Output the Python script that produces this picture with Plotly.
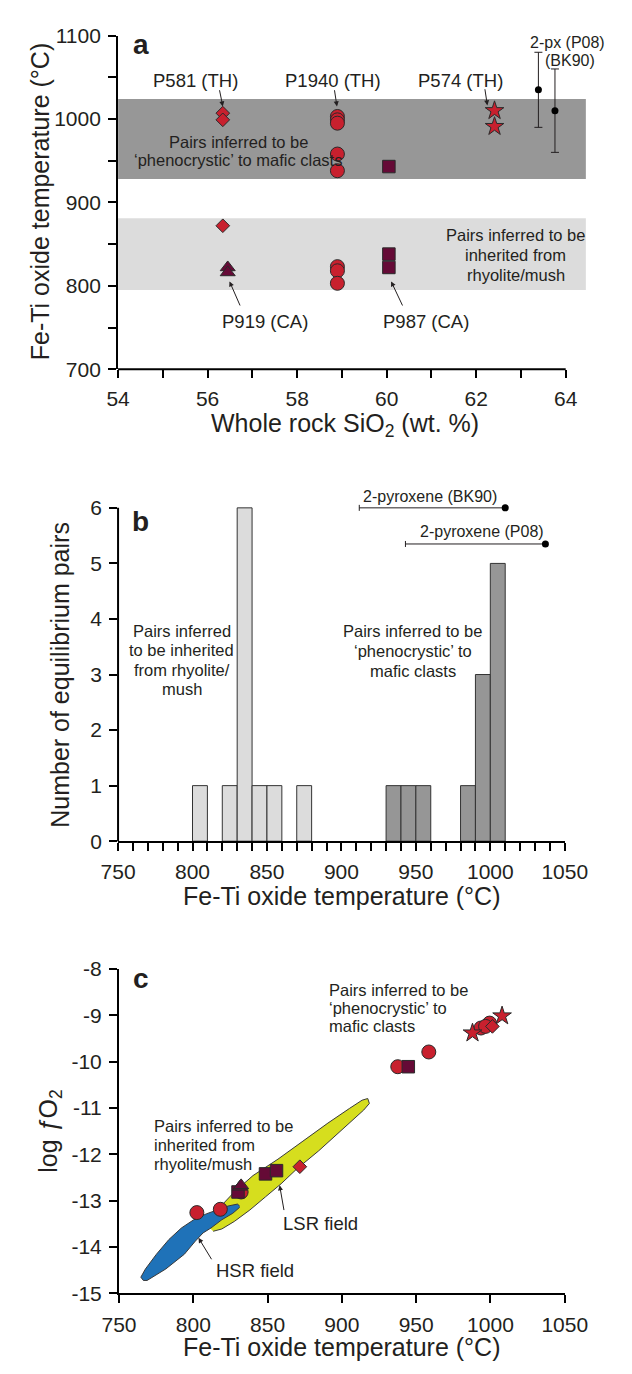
import plotly.graph_objects as go

W, H = 632, 1374
FONT = "Liberation Sans, Arial, sans-serif"
INK = "#231f20"
RED = "#c8202e"
MAROON = "#650a36"
EDGE = "#2a2a2a"

# ---------------- panel a: temperature vs whole-rock SiO2 ----------------
p581_sio2 = [56.34, 56.34, 56.34]
p581_temp = [1007, 999, 872]
p919_sio2 = [56.45, 56.45]
p919_temp = [822, 816]
p1940_sio2 = [58.9, 58.9, 58.9, 58.9, 58.9, 58.9, 58.9, 58.9]
p1940_temp = [1003, 999, 995, 958, 938, 823, 818, 803]
p987_sio2 = [60.05, 60.05, 60.05]
p987_temp = [943, 838, 822]
p574_sio2 = [62.41, 62.41]
p574_temp = [1010, 991]
twopx_sio2 = [63.39, 63.76]
twopx_temp = [1035, 1010]
twopx_err = [45, 50]
mafic_band = [928, 1024]
rhyolite_band = [795, 881]

# ---------------- panel b: histogram of equilibrium pairs ----------------
light_bin_start = [800, 820, 830, 840, 850, 870]
light_counts = [1, 1, 6, 1, 1, 1]
dark_bin_start = [930, 940, 950, 980, 990, 1000]
dark_counts = [1, 1, 1, 1, 3, 5]
bin_width = 10
bk90_temp, bk90_minus, bk90_level = 1010, 98, 6.0
p08_temp, p08_minus, p08_level = 1037, 94, 5.35

# ---------------- panel c: log fO2 vs temperature ----------------
c_circle_t = [802.4, 818.2, 832.2, 937.6, 958.5, 993.6, 999.4, 996.7]
c_circle_f = [-13.255, -13.184, -12.81, -10.108, -9.79, -9.273, -9.167, -9.238]
c_square_t = [830.1, 848.6, 856.0, 944.7]
c_square_f = [-12.81, -12.42, -12.35, -10.108]
c_triangle_t = [831.4, 832.2]
c_triangle_f = [-12.70, -12.668]
c_diamond_t = [871.7, 1001.3]
c_diamond_f = [-12.265, -9.238]
c_star_t = [987.9, 1007.8]
c_star_f = [-9.38, -9.012]

lsr_t = [811.3, 816.1, 820.3, 827.6, 840.2, 857.0, 873.8, 890.6, 905.2, 913.6, 917.4,
         918.5, 914.7, 901.1, 884.3, 869.6, 859.1, 848.6, 838.1, 827.6, 819.2, 813.4]
lsr_f = [-13.59, -13.375, -13.057, -12.81, -12.456, -12.102, -11.713, -11.324, -11.006,
         -10.83, -10.794, -10.90, -11.042, -11.43, -11.925, -12.314, -12.633, -12.915,
         -13.198, -13.446, -13.608, -13.658]
hsr_t = [831.2, 829.7, 823.4, 817.1, 808.7, 800.3, 792.0, 783.6, 775.2, 767.8, 764.7,
         766.4, 768.9, 781.5, 794.0, 801.4, 806.6, 811.9, 819.2, 826.6, 831.2]
hsr_f = [-13.113, -13.071, -13.113, -13.184, -13.283, -13.41, -13.587, -13.835, -14.153,
         -14.471, -14.648, -14.719, -14.719, -14.471, -14.153, -13.87, -13.693, -13.587,
         -13.41, -13.269, -13.142]


def px(x):
    return x / W


def py(y):
    return 1 - y / H


fig = go.Figure()


def marker(symbol, color, size):
    return dict(symbol=symbol, color=color, size=size, line=dict(color=EDGE, width=1))


# panel a traces
fig.add_trace(go.Scatter(x=p1940_sio2, y=p1940_temp, mode="markers",
                         marker=marker("circle", RED, 14), xaxis="x", yaxis="y"))
fig.add_trace(go.Scatter(x=p987_sio2, y=p987_temp, mode="markers",
                         marker=marker("square", MAROON, 12.5), xaxis="x", yaxis="y"))
fig.add_trace(go.Scatter(x=p581_sio2, y=p581_temp, mode="markers",
                         marker=marker("diamond", RED, 10.5), xaxis="x", yaxis="y"))
fig.add_trace(go.Scatter(x=p919_sio2, y=p919_temp, mode="markers",
                         marker=marker("triangle-up", MAROON, 13), xaxis="x", yaxis="y"))
fig.add_trace(go.Scatter(x=p574_sio2, y=p574_temp, mode="markers",
                         marker=marker("star", RED, 14), xaxis="x", yaxis="y"))
fig.add_trace(go.Scatter(x=twopx_sio2, y=twopx_temp, mode="markers",
                         marker=dict(color="black", size=7),
                         error_y=dict(type="data", array=twopx_err, color=INK,
                                      thickness=1, width=4),
                         xaxis="x", yaxis="y", cliponaxis=False))

# panel b traces
fig.add_trace(go.Bar(x=[b + bin_width / 2 for b in light_bin_start], y=light_counts,
                     width=bin_width, marker=dict(color="#dcdcdc", line=dict(color="#333333", width=1)),
                     xaxis="x2", yaxis="y2"))
fig.add_trace(go.Bar(x=[b + bin_width / 2 for b in dark_bin_start], y=dark_counts,
                     width=bin_width, marker=dict(color="#969696", line=dict(color="#333333", width=1)),
                     xaxis="x2", yaxis="y2"))
fig.add_trace(go.Scatter(x=[bk90_temp, p08_temp], y=[bk90_level, p08_level], mode="markers",
                         marker=dict(color="black", size=7),
                         error_x=dict(type="data", symmetric=False, array=[0, 0],
                                      arrayminus=[bk90_minus, p08_minus], color=INK,
                                      thickness=1, width=3),
                         xaxis="x2", yaxis="y2", cliponaxis=False))

# panel c traces
fig.add_trace(go.Scatter(x=lsr_t, y=lsr_f, mode="lines", fill="toself", fillcolor="#d6de1e",
                         line=dict(color="#3a3a3a", width=1), xaxis="x3", yaxis="y3"))
fig.add_trace(go.Scatter(x=hsr_t, y=hsr_f, mode="lines", fill="toself", fillcolor="#1f72b8",
                         line=dict(color="#3a3a3a", width=1), xaxis="x3", yaxis="y3"))
fig.add_trace(go.Scatter(x=c_circle_t, y=c_circle_f, mode="markers",
                         marker=marker("circle", RED, 14), xaxis="x3", yaxis="y3"))
fig.add_trace(go.Scatter(x=c_square_t, y=c_square_f, mode="markers",
                         marker=marker("square", MAROON, 12.5), xaxis="x3", yaxis="y3"))
fig.add_trace(go.Scatter(x=c_diamond_t, y=c_diamond_f, mode="markers",
                         marker=marker("diamond", RED, 10.5), xaxis="x3", yaxis="y3"))
fig.add_trace(go.Scatter(x=c_triangle_t, y=c_triangle_f, mode="markers",
                         marker=marker("triangle-up", MAROON, 13), xaxis="x3", yaxis="y3"))
fig.add_trace(go.Scatter(x=c_star_t, y=c_star_f, mode="markers",
                         marker=marker("star", RED, 14), xaxis="x3", yaxis="y3"))

# background bands in panel a
shapes = []
for band, col in [(mafic_band, "#979797"), (rhyolite_band, "#dcdcdc")]:
    shapes.append(dict(type="rect", xref="x", yref="y", x0=54, x1=64.45, y0=band[0], y1=band[1],
                       fillcolor=col, line=dict(width=0), layer="below"))

# axis lines drawn only over the labelled span
a_xrange = [54, 64.5]
b_yrange = [0, 6.45]
shapes.append(dict(type="line", xref="x domain", yref="y domain", x0=0,
                   x1=(64 - a_xrange[0]) / (a_xrange[1] - a_xrange[0]), y0=0, y1=0,
                   line=dict(color="black", width=2)))
shapes.append(dict(type="line", xref="x2 domain", yref="y2 domain", x0=0, x1=0, y0=0,
                   y1=(6 - b_yrange[0]) / (b_yrange[1] - b_yrange[0]),
                   line=dict(color="black", width=2)))

annotations = []


def text(x, y, s, size=16.5, xref="x", yref="y", xanchor="center", bold=False, **kw):
    if bold:
        s = "<b>" + s + "</b>"
    annotations.append(dict(x=x, y=y, xref=xref, yref=yref, text=s, showarrow=False,
                            xanchor=xanchor, yanchor="middle",
                            font=dict(family=FONT, size=size, color=INK), **kw))


def block(x, y, lines, spacing, size=16.5, xref="x", yref="y", xanchor="center"):
    for i, s in enumerate(lines):
        text(x, y, s, size=size, xref=xref, yref=yref, xanchor=xanchor, yshift=-i * spacing)


def arrow(xh, yh, xt, yt, xref="x", yref="y"):
    annotations.append(dict(x=xh, y=yh, ax=xt, ay=yt, xref=xref, yref=yref, axref=xref,
                            ayref=yref, text="", showarrow=True, arrowhead=2, arrowsize=1,
                            arrowwidth=1, arrowcolor=INK, standoff=0, startstandoff=0))


# panel a labels
text(54.52, 1089.4, "a", size=28, bold=True, xanchor="center")
text(55.74, 1045.8, "P581 (TH)", size=18.5)
text(58.8, 1045.8, "P1940 (TH)", size=18.5)
text(61.65, 1045.8, "P574 (TH)", size=18.5)
text(64.03, 1092.1, "2-px (P08)", size=16)
text(64.09, 1070.5, "(BK90)", size=16)
text(57.28, 757, "P919 (CA)", size=18.5)
text(60.87, 757, "P987 (CA)", size=18.5)
block(56.69, 971.9, ["Pairs inferred to be", "‘phenocrystic’ to mafic clasts"], 17.5)
block(62.88, 861.0, ["Pairs inferred to be", "inherited from", "rhyolite/mush"], 20)
arrow(56.34, 1015.1, 56.26, 1036.3)
arrow(58.89, 1015.1, 58.83, 1036.3)
arrow(62.25, 1016.3, 62.19, 1037.5)
arrow(56.49, 805.3, 56.74, 774.6)
arrow(60.10, 805.3, 60.37, 774.6)

# panel b labels
text(765.1, 5.76, "b", size=28, bold=True, xref="x2", yref="y2")
text(959.4, 6.205, "2-pyroxene (BK90)", size=16, xref="x2", yref="y2")
text(994.5, 5.575, "2-pyroxene (P08)", size=16, xref="x2", yref="y2")
block(792.7, 3.788, ["Pairs inferred", "to be inherited", "from rhyolite/", "mush"], 19.5,
      xref="x2", yref="y2")
block(947.8, 3.788, ["Pairs inferred to be", "‘phenocrystic’ to", "mafic clasts"], 20,
      xref="x2", yref="y2")

# panel c labels
text(765.1, -8.206, "c", size=28, bold=True, xref="x3", yref="y3")
block(890.1, -8.46, ["Pairs inferred to be", "‘phenocrystic’ to", "mafic clasts"], 18,
      xref="x3", yref="y3", xanchor="left")
block(772.0, -11.394, ["Pairs inferred to be", "inherited from", "rhyolite/mush"], 19,
      xref="x3", yref="y3", xanchor="left")
text(859.1, -13.48, "LSR field", size=18.5, xref="x3", yref="y3", xanchor="left")
text(814.0, -14.506, "HSR field", size=18.5, xref="x3", yref="y3", xanchor="left")
arrow(858.1, -12.667, 861.2, -13.233, xref="x3", yref="y3")
arrow(803.5, -13.8, 812.9, -14.294, xref="x3", yref="y3")

# axis titles
text(px(349.5), py(420), "Whole rock SiO<sub>2</sub> (wt. %)", size=25, xref="paper", yref="paper")
text(px(23), py(193), "Fe-Ti oxide temperature (°C)", size=25, xref="paper", yref="paper",
     textangle=-90)
text(px(346), py(899), "Fe-Ti oxide temperature (°C)", size=25, xref="paper", yref="paper")
text(px(45), py(674), "Number of equilibrium pairs", size=25, xref="paper", yref="paper",
     textangle=-90)
text(px(346), py(1358), "Fe-Ti oxide temperature (°C)", size=25, xref="paper", yref="paper")
text(px(34), py(1138), "log <i>ƒ</i>O<sub>2</sub>", size=25, xref="paper", yref="paper",
     textangle=-90)

tickfont = dict(family=FONT, size=21, color=INK)
common = dict(showgrid=False, zeroline=False, ticks="outside", ticklen=8, tickwidth=2,
              tickcolor="black", tickfont=tickfont, linecolor="black", linewidth=2,
              ticklabelstandoff=3)

a_xticks = list(range(54, 65))
a_yticks = list(range(700, 1101, 50))
b_xticks = list(range(750, 1051, 10))
c_xticks = list(range(750, 1051, 50))
c_yticks = list(range(-15, -7))

fig.update_layout(
    width=W, height=H, margin=dict(l=0, r=0, t=0, b=0),
    paper_bgcolor="white", plot_bgcolor="rgba(0,0,0,0)", showlegend=False,
    barmode="overlay",
    xaxis=dict(common, domain=[px(107), px(107 + 10.5 * 47.87)], range=a_xrange,
               showline=False, anchor="y", tickmode="array", tickvals=a_xticks,
               ticktext=[str(v) if v % 2 == 0 else "" for v in a_xticks]),
    yaxis=dict(common, domain=[py(363.3), py(24)], range=[700, 1100], showline=True,
               anchor="x", tickmode="array", tickvals=a_yticks,
               ticktext=[str(v) if v % 100 == 0 else "" for v in a_yticks]),
    xaxis2=dict(common, domain=[px(107), px(584.7)], range=[750, 1050], showline=True,
                anchor="y2", tickmode="array", tickvals=b_xticks,
                ticktext=[str(v) if v % 50 == 0 else "" for v in b_xticks]),
    yaxis2=dict(common, domain=[py(843.3), py(843.3 - 6.45 * 56.5)], range=b_yrange,
                showline=False, anchor="x2", tickmode="array", tickvals=list(range(0, 7)),
                ticktext=[str(v) for v in range(0, 7)]),
    xaxis3=dict(common, domain=[px(108), px(584.7)], range=[750, 1050], showline=True,
                anchor="y3", tickmode="array", tickvals=c_xticks,
                ticktext=[str(v) for v in c_xticks]),
    yaxis3=dict(common, domain=[py(1303.3), py(973.3)], range=[-15, -8], showline=True,
                anchor="x3", tickmode="array", tickvals=c_yticks,
                ticktext=["-" + str(abs(v)) for v in c_yticks]),
    shapes=shapes, annotations=annotations,
)

fig.write_html("out.html")
